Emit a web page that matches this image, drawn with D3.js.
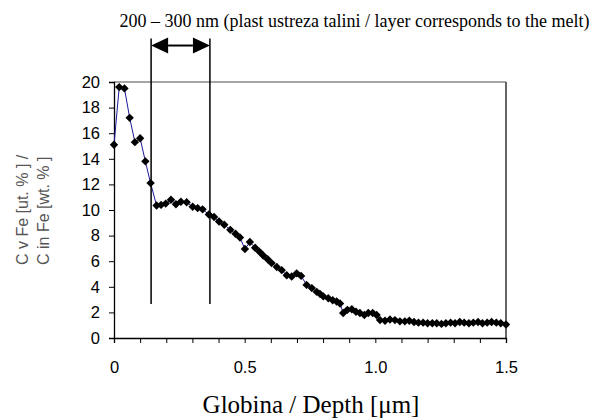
<!DOCTYPE html>
<meta charset="utf-8">
<style>
body { margin: 0; background: #fff; }
.tick text { font: 16.5px "Liberation Sans", Arial, sans-serif; fill: #000; }
.ylab { font: 16px "Liberation Sans", Arial, sans-serif; fill: #555; }
.serif { font-family: "Liberation Serif", "Times New Roman", serif; fill: #000; }
</style>
<svg width="592" height="419"></svg>
<script src="https://d3js.org/d3.v7.min.js"></script>
<script>

// depth in um, carbon content in wt.%
var depth = [0, 0.02, 0.04, 0.06, 0.08, 0.10, 0.12, 0.14,
  0.163, 0.18, 0.198, 0.218, 0.237, 0.256, 0.278, 0.301, 0.32, 0.339, 0.363, 0.383, 0.402, 0.422, 0.445,
  0.465, 0.482,
  0.501, 0.52, 0.54, 0.556, 0.571, 0.588, 0.603, 0.623, 0.642, 0.661, 0.68, 0.699, 0.716, 0.737, 0.757, 0.776,
  0.788, 0.801, 0.82, 0.837, 0.852, 0.865, 0.877, 0.893, 0.91, 0.926, 0.941, 0.958, 0.973, 0.99, 1.005, 1.018,
  1.037, 1.056, 1.075, 1.094, 1.113, 1.13,
  1.148, 1.165, 1.183, 1.2, 1.218, 1.235, 1.253, 1.27, 1.288, 1.305, 1.323, 1.34, 1.358, 1.375, 1.393, 1.41,
  1.428, 1.445, 1.463, 1.48, 1.5];

var carbon = [15.1, 19.6, 19.5, 17.2, 15.3, 15.6, 13.8, 12.1,
  10.35, 10.4, 10.5, 10.8, 10.45, 10.65, 10.6, 10.25, 10.15, 10.05, 9.65, 9.45, 9.1, 8.85, 8.45,
  8.15, 7.85,
  6.95, 7.5, 7.05, 6.75, 6.45, 6.15, 5.85, 5.55, 5.3, 4.9, 4.8, 5.05, 4.85, 4.15, 3.9, 3.6,
  3.45, 3.25, 3.1, 2.95, 2.85, 2.7, 1.95, 2.2, 2.25, 2.05, 1.95, 1.8, 1.95, 1.95, 1.8, 1.4,
  1.35, 1.45, 1.4, 1.3, 1.3, 1.35,
  1.25, 1.2, 1.2, 1.15, 1.15, 1.15, 1.1, 1.15, 1.2, 1.15, 1.25, 1.2, 1.15, 1.2, 1.25, 1.15,
  1.2, 1.25, 1.2, 1.15, 1.05];

var xMajor = [0, 0.5, 1.0, 1.5];
var xMajorLabels = ["0", "0.5", "1.0", "1.5"];
var xMinor = [0.1, 0.2, 0.3, 0.4, 0.6, 0.7, 0.8, 0.9, 1.1, 1.2, 1.3, 1.4];
var yTicks = [0, 2, 4, 6, 8, 10, 12, 14, 16, 18, 20];

// melt layer annotation (depth range, arrow level and line bottom in data units)
var layer = [0.142, 0.367];
var layerBottom = 2.65, layerTop = 23.4, arrowLevel = 22.85;

var title = "200 \u2013 300 nm (plast ustreza talini / layer corresponds to the melt)";
var xTitle = "Globina / Depth [\u03bcm]";
var yTitle = ["C v Fe [ut. % ] /", "C in Fe [wt. % ]"];

var svg = d3.select("svg"),
    margin = {top: 82, right: 86, bottom: 81, left: 114},
    width = +svg.attr("width") - margin.left - margin.right,
    height = +svg.attr("height") - margin.top - margin.bottom,
    g = svg.append("g").attr("transform", "translate(" + margin.left + "," + margin.top + ")");

var x = d3.scaleLinear().domain([0, 1.5]).range([0, width]);
var y = d3.scaleLinear().domain([0, 20]).range([height, 0]);

// frame (top + right)
g.append("line").attr("x1", 0).attr("x2", width).attr("y1", 0).attr("y2", 0)
  .attr("stroke", "#888").attr("stroke-width", 1.5);
g.append("line").attr("x1", width).attr("x2", width).attr("y1", 0).attr("y2", height)
  .attr("stroke", "#333").attr("stroke-width", 1.5);

// axes
g.append("g").attr("transform", "translate(0," + height + ")")
  .call(d3.axisBottom(x).tickValues(xMinor).tickSize(5).tickFormat(""))
  .call(a => a.select(".domain").remove());
g.append("g").attr("transform", "translate(0," + height + ")")
  .call(d3.axisBottom(x).tickValues(xMajor).tickSize(5).tickPadding(18)
    .tickFormat((d, i) => xMajorLabels[i]));
g.append("g")
  .call(d3.axisLeft(y).tickValues(yTicks).tickSize(5).tickPadding(9));
g.selectAll(".domain").attr("stroke", "#000").attr("stroke-width", 1.3);
g.selectAll(".tick line").attr("stroke", "#000");

// data line + markers
var pts = depth.map((d, i) => [d, carbon[i]]);
g.append("path").datum(pts)
  .attr("fill", "none").attr("stroke", "#1a1a99").attr("stroke-width", 1)
  .attr("d", d3.line().x(d => x(d[0])).y(d => y(d[1])));
g.selectAll(".pt").data(pts).enter().append("path")
  .attr("class", "pt")
  .attr("transform", d => "translate(" + x(d[0]) + "," + y(d[1]) + ")")
  .attr("d", "M0,-4.2L4.2,0L0,4.2L-4.2,0Z")
  .attr("fill", "#000");

// annotation lines and arrow
g.selectAll(".vl").data(layer).enter().append("line")
  .attr("x1", d => x(d)).attr("x2", d => x(d))
  .attr("y1", y(layerTop)).attr("y2", y(layerBottom))
  .attr("stroke", "#000").attr("stroke-width", 1.5);
var ay = y(arrowLevel), x0 = x(layer[0]), x1 = x(layer[1]), ah = 17, aw = 8;
g.append("line").attr("x1", x0 + ah).attr("x2", x1 - ah).attr("y1", ay).attr("y2", ay)
  .attr("stroke", "#000").attr("stroke-width", 2);
g.append("path").attr("fill", "#000")
  .attr("d", "M" + x0 + "," + ay + "L" + (x0 + ah) + "," + (ay - aw) + "L" + (x0 + ah) + "," + (ay + aw) + "Z");
g.append("path").attr("fill", "#000")
  .attr("d", "M" + x1 + "," + ay + "L" + (x1 - ah) + "," + (ay - aw) + "L" + (x1 - ah) + "," + (ay + aw) + "Z");

// texts
svg.append("text").attr("class", "serif").attr("x", 354.5).attr("y", 27)
  .attr("text-anchor", "middle").style("font-size", "18px").text(title);
svg.append("text").attr("class", "serif").attr("x", 311).attr("y", 413)
  .attr("text-anchor", "middle").style("font-size", "25px").text(xTitle);
svg.selectAll(".ylab").data(yTitle).enter().append("text")
  .attr("class", "ylab")
  .attr("transform", (d, i) => "translate(" + (28 + i * 21) + ",265) rotate(-90)")
  .text(d => d);

</script>
